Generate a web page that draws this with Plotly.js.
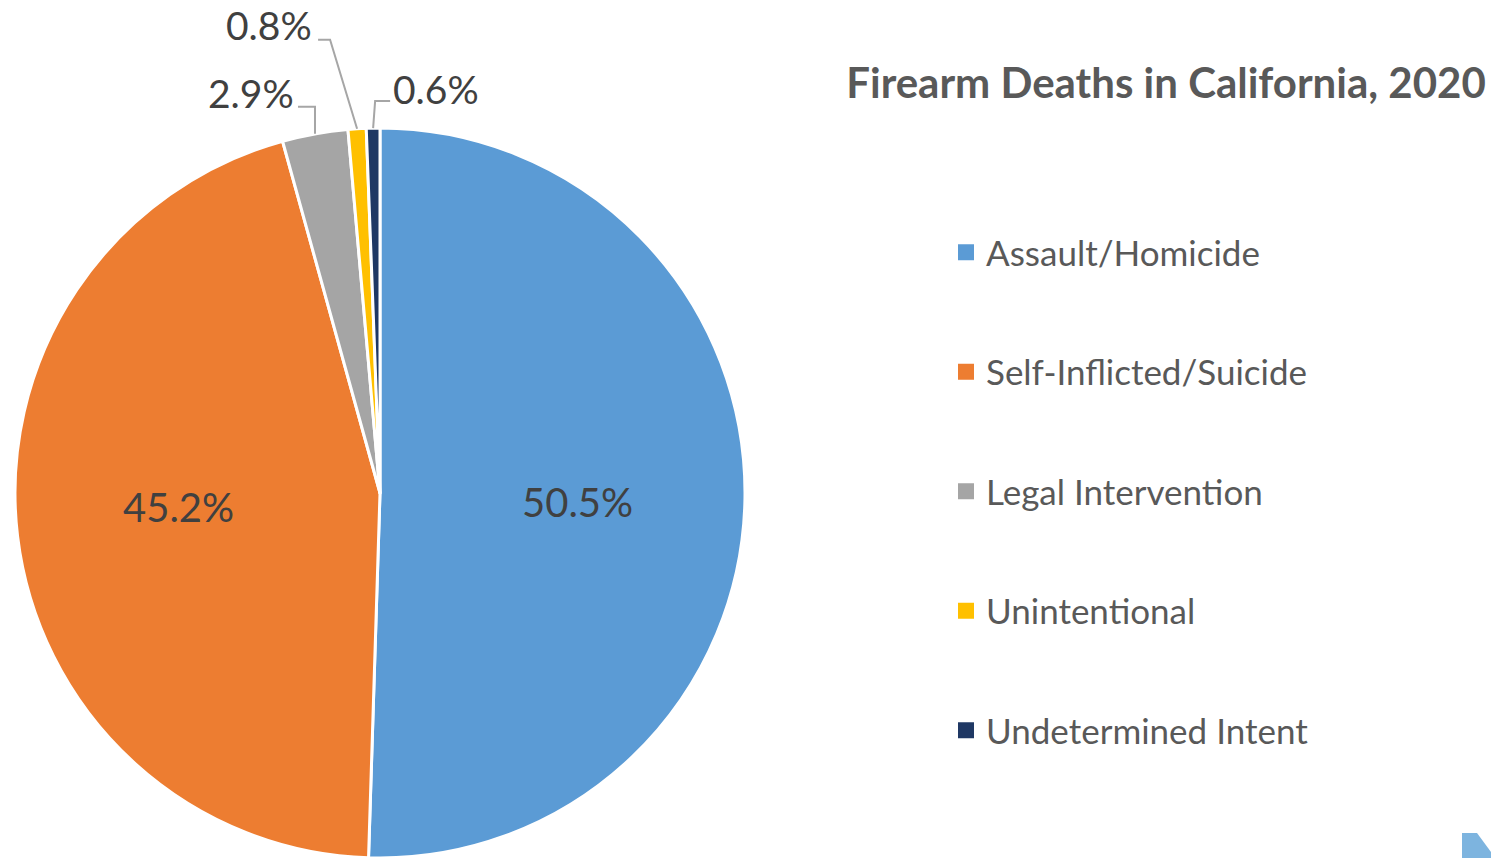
<!DOCTYPE html>
<html><head><meta charset="utf-8">
<script src="https://cdn.plot.ly/plotly-3.0.1.min.js"></script>
<style>html,body{margin:0;padding:0;overflow:hidden;background:#fff}#chart{width:1491px;height:858px}</style>
</head><body><div id="chart"></div>
<script>
const categories = ["Assault/Homicide", "Self-Inflicted/Suicide", "Legal Intervention", "Unintentional", "Undetermined Intent"];
const values = [50.5, 45.2, 2.9, 0.8, 0.6];
const colors = ["#5B9BD5", "#ED7D31", "#A5A5A5", "#FFC000", "#1F3864"];
const titleText = "Firearm Deaths in California, 2020";

const W = 1491, H = 858;
const FONT = "Lato, 'Open Sans', sans-serif";
const domX = [15 / W, 745 / W];
const domY = [0, 1 - 128 / H];
const cx = (domX[0] + domX[1]) / 2 * W;
const cy = (1 - (domY[0] + domY[1]) / 2) * H;
const R = Math.min((domX[1] - domX[0]) * W, (domY[1] - domY[0]) * H) / 2;

const total = values.reduce((a, b) => a + b, 0);
const labelsText = values.map(v => v.toFixed(1) + "%");
const insideShown = values.map(v => v / total > 0.1);
const insideRadiusFrac = 0.55;
// small pixel nudges of inside labels (style only)
const insideNudge = {0: [-3, 6], 1: [-2, -10]};

// outside label styling offsets (relative to slice edge point), px
const outsideStyle = {
  2: {path: [[0, -27], [-17, -27]], anchor: "right", dx: -19, dy: -41},
  3: {path: [[-27, -89], [-39, -89]], anchor: "right", dx: -43, dy: -104},
  4: {path: [[2, -27], [17, -27]], anchor: "left", dx: 18, dy: -39}
};

const shapes = [];
const annotations = [];
let cum = 0;
values.forEach((v, i) => {
  const mid = (cum + v / 2) / total;
  cum += v;
  const th = 2 * Math.PI * mid;
  if (insideShown[i]) {
    const r = R * insideRadiusFrac;
    const n = insideNudge[i] || [0, 0];
    annotations.push({
      xref: "paper", yref: "paper", x: (cx + r * Math.sin(th) + n[0]) / W, y: 1 - (cy - r * Math.cos(th) + n[1]) / H,
      xanchor: "center", yanchor: "middle", showarrow: false, text: labelsText[i],
      font: {family: FONT, size: 40, color: "#404040"}
    });
    return;
  }
  const st = outsideStyle[i];
  const ex = cx + R * Math.sin(th), ey = cy - R * Math.cos(th);
  const pts = [[ex, ey]].concat(st.path.map(p => [ex + p[0], ey + p[1]]));
  const d = pts.map((p, k) => (k ? "L" : "M") + (p[0] / W).toFixed(5) + "," + (1 - p[1] / H).toFixed(5)).join(" ");
  shapes.push({type: "path", xref: "paper", yref: "paper", path: d, line: {color: "#A6A6A6", width: 2}});
  annotations.push({
    xref: "paper", yref: "paper", x: (ex + st.dx) / W, y: 1 - (ey + st.dy) / H,
    xanchor: st.anchor, yanchor: "middle", showarrow: false, text: labelsText[i],
    font: {family: FONT, size: 39, color: "#404040"}
  });
});

// small decorative corner mark
shapes.push({type: "path", xref: "paper", yref: "paper",
  path: "M" + (1462 / W) + "," + (1 - 833 / H) + " L" + (1477 / W) + "," + (1 - 833 / H) + " L" + (1491 / W) + "," + (1 - 852 / H) + " L" + (1491 / W) + ",0 L" + (1462 / W) + ",0 Z",
  fillcolor: "#7DB4DF", line: {width: 0}});

const pie = {
  type: "pie", values: values, labels: categories, sort: false, direction: "clockwise", rotation: 0,
  marker: {colors: colors, line: {color: "#FFFFFF", width: 3}},
  textinfo: "none",
  domain: {x: domX, y: domY}, showlegend: false, hoverinfo: "label+percent"
};

const legendTraces = categories.map((c, i) => ({
  type: "scatter", mode: "markers", x: [null], y: [null], name: c, legendgroup: "g" + i,
  marker: {symbol: "square", size: 16, color: colors[i]}, hoverinfo: "skip"
}));

const layout = {
  width: W, height: H, margin: {l: 0, r: 0, t: 0, b: 0},
  paper_bgcolor: "#FFFFFF", plot_bgcolor: "#FFFFFF",
  title: {text: "<b>" + titleText + "</b>", x: 1166 / W, xanchor: "center", y: 1 - 83 / H, yanchor: "middle",
    font: {family: FONT, size: 42, color: "#595959"}},
  xaxis: {visible: false}, yaxis: {visible: false},
  showlegend: true,
  legend: {x: 946 / W, xanchor: "left", y: 1 - 223 / H, yanchor: "top", tracegroupgap: 71,
    font: {family: FONT, size: 35, color: "#595959"}, bgcolor: "rgba(0,0,0,0)"},
  shapes: shapes, annotations: annotations, hovermode: false
};

Plotly.newPlot("chart", [pie].concat(legendTraces), layout, {displayModeBar: false, staticPlot: true});
</script></body></html>
